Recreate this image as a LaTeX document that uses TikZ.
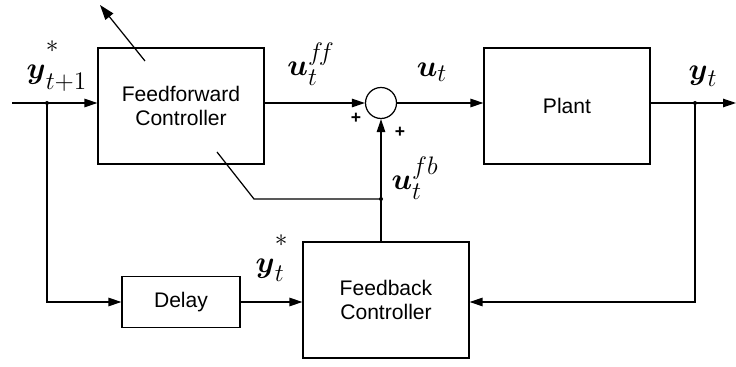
\documentclass[tikz,border=0pt]{standalone}
\usepackage{amsmath}
\usepackage{fontspec}
\setmainfont{Liberation Sans}
\usetikzlibrary{arrows.meta,calc}

\newcommand{\hstar}{\raisebox{0.45em}{$\scriptstyle *$}}

\begin{document}
\begin{tikzpicture}[x=0.02cm,y=-0.02cm,
    block/.style={draw,line width=0.7pt,minimum width=3.32cm,minimum height=2.32cm,
      align=center,font=\fontsize{12}{14}\selectfont},
    sumnode/.style={draw,circle,line width=0.7pt,minimum size=0.62cm,inner sep=0pt},
    sig/.style={line width=0.7pt,-{Triangle[length=0.26cm,width=0.17cm]}},
    wire/.style={line width=0.7pt},
    lbl/.style={font=\fontsize{19}{22}\selectfont},
    tap/.style={circle,fill,inner sep=0pt,minimum size=0.08cm}]
  \useasboundingbox (0,0) rectangle (736,367);
  % blocks
  \node[block] (ffc) at (181,106) {Feedforward\\Controller};
  \node[block] (plant) at (567,106) {Plant};
  \node[block] (fbc) at (386,300) {Feedback\\Controller};
  \node[block,minimum width=2.36cm,minimum height=1.02cm] (delay) at (181,302) {Delay};
  \node[sumnode] (sum) at (381,103) {};
  % branch points
  \coordinate (in) at (12,103);
  \coordinate (out) at (736,103);
  \node[tap] (tap1) at (47,103) {};
  \node[tap] (tap2) at (695,103) {};
  \node[tap] (tap3) at (381,199) {};
  \coordinate (bend) at (254,199);
  \coordinate (adapt) at (217,152);
  \coordinate (tune0) at (145,61);
  \coordinate (tune1) at (100,5);
  % signals
  \draw[sig] (in) -- (ffc.west |- in);
  \draw[sig] (ffc.east |- sum) -- (sum);
  \draw[sig] (sum) -- (plant.west |- sum);
  \draw[sig] (plant.east |- sum) -- (out);
  \draw[sig] (tap1.center) |- (delay);
  \draw[sig] (delay) -- (fbc.west |- delay);
  \draw[sig] (tap2.center) |- (fbc.east |- delay);
  \draw[sig] (fbc.north -| sum) -- (sum);
  \draw[wire] (tap3.center) -- (bend) -- (adapt);
  \draw[line width=0.7pt,-{Triangle[length=0.3cm,width=0.2cm]}] (tune0) -- (tune1);
  % labels
  \node[lbl] (ystar1) at (57,66) {$\boldsymbol{y}_{t+1}^{\hstar}$};
  \node[lbl] (uff) at (311,64) {$\boldsymbol{u}_{t}^{f\!f}$};
  \node[lbl] (ut) at (432,72) {$\boldsymbol{u}_{t}$};
  \node[lbl] (yt) at (703,76) {$\boldsymbol{y}_{t}$};
  \node[lbl] (ufb) at (415,178) {$\boldsymbol{u}_{t}^{fb}$};
  \node[lbl] (ystar) at (272,258) {$\boldsymbol{y}_{t}^{\hstar}$};
  \node[font=\bfseries] (plus1) at (356,118) {+};
  \node[font=\bfseries] (plus2) at (400,132) {+};
\end{tikzpicture}
\end{document}
